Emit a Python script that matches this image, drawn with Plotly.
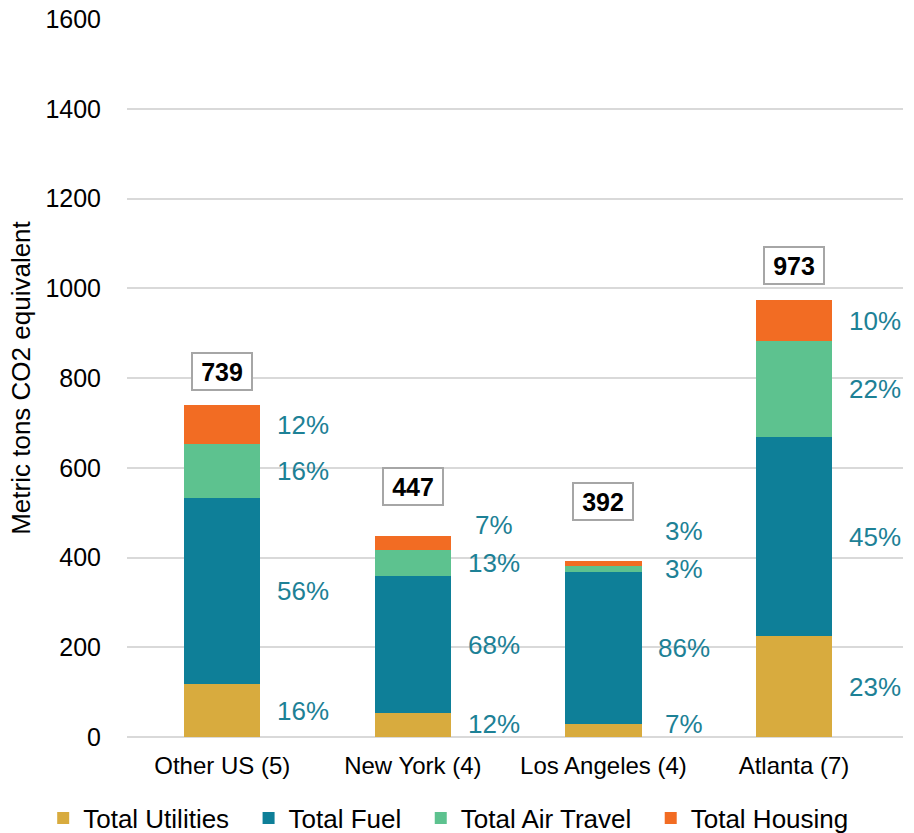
import plotly.graph_objects as go

categories = ["Other US (5)", "New York (4)", "Los Angeles (4)", "Atlanta (7)"]
utilities = [118, 54, 29, 225]
fuel = [414, 304, 338, 443]
air_travel = [120, 58, 14, 214]
housing = [87, 31, 11, 91]
pct_utilities = ["16%", "12%", "7%", "23%"]
pct_fuel = ["56%", "68%", "86%", "45%"]
pct_air = ["16%", "13%", "3%", "22%"]
pct_housing = ["12%", "7%", "3%", "10%"]
y_ticks = [0, 200, 400, 600, 800, 1000, 1200, 1400, 1600]

series = [
    ("Total Utilities", utilities, pct_utilities, "#D8AB3E"),
    ("Total Fuel", fuel, pct_fuel, "#0E7F98"),
    ("Total Air Travel", air_travel, pct_air, "#5DC28F"),
    ("Total Housing", housing, pct_housing, "#F26C23"),
]

FONT = "Liberation Sans, Arial, sans-serif"
PCT_COLOR = "#1D8196"
GAP = "\u00a0\u00a0"

fig = go.Figure()
for i, (name, vals, _, color) in enumerate(series):
    fig.add_trace(go.Bar(
        x=categories, y=vals,
        name=name + (GAP if i < len(series) - 1 else ""),
        marker=dict(color=color, line=dict(width=0)),
        width=0.4,
    ))

annotations = []
# percentage labels: segment midpoints, pushed apart to avoid overlap
for ci, cat in enumerate(categories):
    base = 0
    prev = None
    for si, (name, vals, pcts, color) in enumerate(series):
        mid = base + vals[ci] / 2
        base += vals[ci]
        y = mid
        if prev is None:
            y = max(y, 30)
        else:
            y = max(y, prev + 85)
        prev = y
        annotations.append(dict(
            x=cat, y=y, xref="x", yref="y", text=pcts[ci], showarrow=False,
            xshift=81, font=dict(size=26, color=PCT_COLOR, family=FONT),
            xanchor="center", yanchor="middle",
        ))

# totals in boxes
box_shift = [34, 50, 60, 35]
for ci, cat in enumerate(categories):
    total = utilities[ci] + fuel[ci] + air_travel[ci] + housing[ci]
    annotations.append(dict(
        x=cat, y=total, xref="x", yref="y", text="<b>%d</b>" % total,
        showarrow=False, yanchor="middle", yshift=box_shift[ci],
        font=dict(size=25, color="black", family=FONT),
        bgcolor="white", bordercolor="#A6A6A6", borderwidth=2, borderpad=2,
        width=54, height=31,
    ))

fig.update_layout(
    barmode="stack",
    width=914, height=833,
    margin=dict(l=127, r=11, t=19, b=96, autoexpand=False),
    plot_bgcolor="white", paper_bgcolor="white",
    font=dict(family=FONT, color="black"),
    annotations=annotations,
    legend=dict(
        orientation="h", xref="paper", x=-0.108, xanchor="left",
        yref="paper", y=-0.1128, yanchor="middle",
        font=dict(size=26, family=FONT, color="black"),
        itemwidth=30, traceorder="normal",
    ),
)
fig.update_xaxes(
    tickfont=dict(size=24, family=FONT, color="black"),
    showline=False, showgrid=False, automargin=False,
    ticks="outside", ticklen=7, tickcolor="rgba(0,0,0,0)",
)
fig.update_yaxes(
    range=[0, 1600], tickvals=y_ticks, ticktext=[str(v) for v in y_ticks],
    tickfont=dict(size=25, family=FONT, color="black"),
    gridcolor="#D9D9D9", gridwidth=1.5, zeroline=True, zerolinecolor="#D9D9D9",
    zerolinewidth=1.5, automargin=True,
    title=dict(text="Metric tons CO2 equivalent", font=dict(size=26, family=FONT, color="black"), standoff=7),
    ticks="outside", ticklen=20, tickcolor="rgba(0,0,0,0)",
)
fig.write_html("out.html", config={"displayModeBar": False},
               post_script="document.body.style.margin='0';")
